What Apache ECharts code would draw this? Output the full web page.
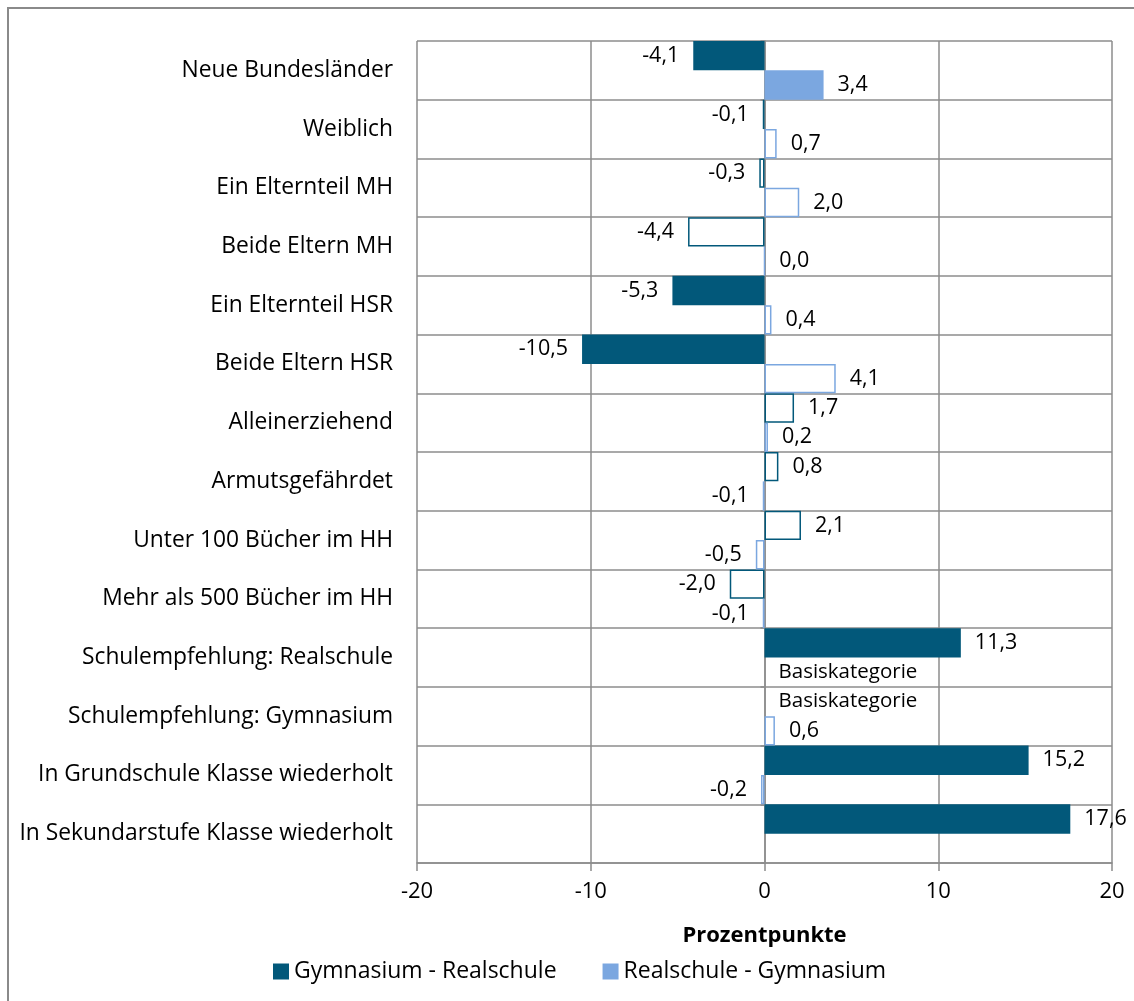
<!DOCTYPE html>
<html>
<head>
<meta charset="utf-8">
<script src="https://cdn.jsdelivr.net/npm/echarts@6/dist/echarts.min.js"></script>
<style>
  html, body { margin: 0; padding: 0; background: #fff; }
  #chart { width: 1134px; height: 1001px; }
</style>
</head>
<body>
<div id="chart"></div>
<script>
// Kategorien (von oben nach unten)
var categories = [
  'Neue Bundesländer',
  'Weiblich',
  'Ein Elternteil MH',
  'Beide Eltern MH',
  'Ein Elternteil HSR',
  'Beide Eltern HSR',
  'Alleinerziehend',
  'Armutsgefährdet',
  'Unter 100 Bücher im HH',
  'Mehr als 500 Bücher im HH',
  'Schulempfehlung: Realschule',
  'Schulempfehlung: Gymnasium',
  'In Grundschule Klasse wiederholt',
  'In Sekundarstufe Klasse wiederholt'
];
var seriesNames = ['Gymnasium - Realschule', 'Realschule - Gymnasium'];
// Werte in Prozentpunkten, null = kein Wert
var gymReal = [-4.1, -0.1, -0.3, -4.4, -5.3, -10.5, 1.7, 0.8, 2.1, -2.0, 11.3, null, 15.2, 17.6];
var realGym = [3.4, 0.7, 2.0, 0.0, 0.4, 4.1, 0.2, -0.1, -0.5, -0.1, null, 0.6, -0.2, null];
// 1 = gefüllter Balken (signifikant), 0 = nur Umriss
var gymRealSig = [1, 0, 0, 0, 1, 1, 0, 0, 0, 0, 1, 0, 1, 1];
var realGymSig = [1, 0, 0, 0, 0, 0, 0, 0, 0, 0, 0, 0, 0, 0];
// Basiskategorie-Zeilen
var gymRealBase = ['Schulempfehlung: Gymnasium'];
var realGymBase = ['Schulempfehlung: Realschule'];
var xTicks = [-20, -10, 0, 10, 20];

var colors = ['#02587a', '#7ba7e0'];
var font = 'Open Sans';
var gridColor = '#8c8c8c';

function fmt(v) {
  return v.toFixed(1).replace('.', ',');
}

function buildData(values, sig, base, color) {
  return values.map(function (v, i) {
    if (base.indexOf(categories[i]) >= 0) {
      return {
        value: 0,
        itemStyle: { color: 'rgba(0,0,0,0)', borderWidth: 0 },
        label: { show: true, position: 'right', fontSize: 20.5, formatter: 'Basiskategorie' }
      };
    }
    if (v === null) {
      return { value: null, label: { show: false } };
    }
    var item = {
      value: v,
      label: { position: v < 0 ? 'left' : 'right' }
    };
    if (sig[i]) {
      item.itemStyle = { color: color, borderWidth: 0 };
    } else {
      item.itemStyle = { color: 'rgba(255,255,255,0)', borderColor: color, borderWidth: 1.5 };
    }
    return item;
  });
}

var labelStyle = {
  show: true,
  distance: 14,
  fontFamily: font,
  fontSize: 21.5,
  color: '#000',
  formatter: function (p) {
    return typeof p.value === 'number' ? fmt(p.value) : '';
  }
};

var chart = echarts.init(document.getElementById('chart'));
chart.setOption({
  animation: false,
  backgroundColor: '#fff',
  textStyle: { fontFamily: font },
  graphic: [{
    type: 'rect',
    shape: { x: 8, y: 8, width: 1300, height: 1200 },
    style: { fill: 'none', stroke: '#8a8a8a', lineWidth: 2 },
    silent: true
  }],
  grid: { left: 417, right: 22, top: 41, bottom: 138 },
  legend: {
    data: seriesNames,
    top: 955,
    left: 268,
    icon: 'rect',
    itemWidth: 16,
    itemHeight: 16,
    itemGap: 46,
    textStyle: { fontFamily: font, fontSize: 23, color: '#000' }
  },
  xAxis: {
    type: 'value',
    min: xTicks[0],
    max: xTicks[xTicks.length - 1],
    interval: 10,
    name: 'Prozentpunkte',
    nameLocation: 'middle',
    nameGap: 62,
    nameTextStyle: { fontFamily: font, fontSize: 22, fontWeight: 'bold', color: '#000' },
    axisLine: { show: true, lineStyle: { color: gridColor, width: 1.5 } },
    axisTick: { show: true, length: 8, lineStyle: { color: gridColor, width: 1.5 } },
    axisLabel: { fontFamily: font, fontSize: 22, color: '#000', margin: 18 },
    splitLine: { show: true, lineStyle: { color: gridColor, width: 1.5 } }
  },
  yAxis: {
    type: 'category',
    data: categories,
    inverse: true,
    axisLine: { show: true, lineStyle: { color: gridColor, width: 1.5 } },
    axisTick: { show: true, length: 4, interval: 0, lineStyle: { color: gridColor, width: 1.5 } },
    axisLabel: { fontFamily: font, fontSize: 22.8, color: '#000', margin: 24, interval: 0 },
    splitLine: { show: true, interval: 0, lineStyle: { color: gridColor, width: 1.5 } }
  },
  series: [{
    name: seriesNames[0],
    type: 'bar',
    barGap: '0%',
    barCategoryGap: '0%',
    itemStyle: { color: colors[0] },
    label: labelStyle,
    data: buildData(gymReal, gymRealSig, gymRealBase, colors[0])
  }, {
    name: seriesNames[1],
    type: 'bar',
    barGap: '0%',
    barCategoryGap: '0%',
    itemStyle: { color: colors[1] },
    label: labelStyle,
    data: buildData(realGym, realGymSig, realGymBase, colors[1])
  }]
});
</script>
</body>
</html>
